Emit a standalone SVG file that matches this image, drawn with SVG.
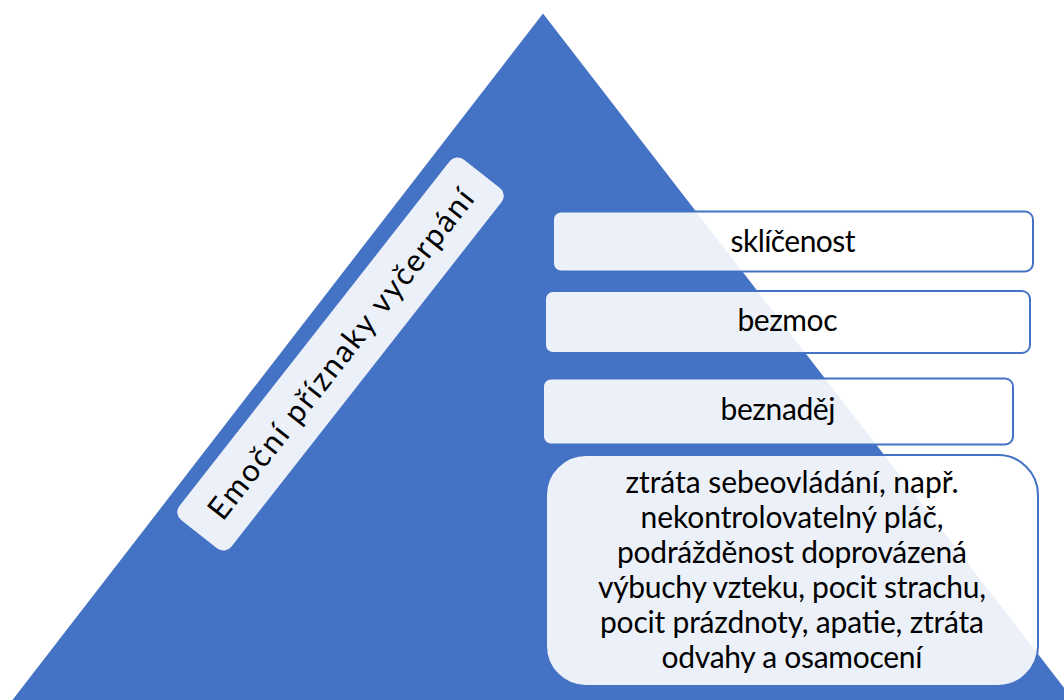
<svg xmlns="http://www.w3.org/2000/svg" width="1064" height="700" viewBox="0 0 1064 700">
<style>
.lbl{font-family:Lato,"Open Sans","Liberation Sans",sans-serif;font-size:30px;fill:#000;text-anchor:middle}
.box{fill:#fff;fill-opacity:0.9;stroke:#4472C4;stroke-width:2}
</style>
<rect width="1064" height="700" fill="#fff"/>
<g id="pyramid">
<polygon points="543,13.5 -3,720 1089,720" fill="#4472C4"/>
</g>
<g id="title" transform="translate(340.5,354) rotate(-51.9)">
<rect x="-229" y="-33" width="458" height="66" rx="10" fill="#fff" fill-opacity="0.9"/>
<text class="lbl" x="0" y="11" style="font-size:31px" textLength="410">Emoční příznaky vyčerpání</text>
</g>
<g id="level1">
<rect class="box" x="553" y="211.5" width="480" height="60" rx="8"/>
<text class="lbl" x="793" y="251.5" textLength="125">sklíčenost</text>
</g>
<g id="level2">
<rect class="box" x="545" y="291" width="485" height="62" rx="8"/>
<text class="lbl" x="787.5" y="331" textLength="100">bezmoc</text>
</g>
<g id="level3">
<rect class="box" x="543" y="378.5" width="470" height="66" rx="8"/>
<text class="lbl" x="778" y="420" textLength="115">beznaděj</text>
</g>
<g id="level4">
<rect class="box" x="546" y="455" width="492" height="231" rx="40"/>
<text class="lbl" x="792" y="493" textLength="333">ztráta sebeovládání, např.</text>
<text class="lbl" x="792" y="528" textLength="303">nekontrolovatelný pláč,</text>
<text class="lbl" x="792" y="563" textLength="350">podrážděnost doprovázená</text>
<text class="lbl" x="792" y="598" textLength="388">výbuchy vzteku, pocit strachu,</text>
<text class="lbl" x="792" y="633" textLength="384">pocit prázdnoty, apatie, ztráta</text>
<text class="lbl" x="792" y="668" textLength="261">odvahy a osamocení</text>
</g>
</svg>
